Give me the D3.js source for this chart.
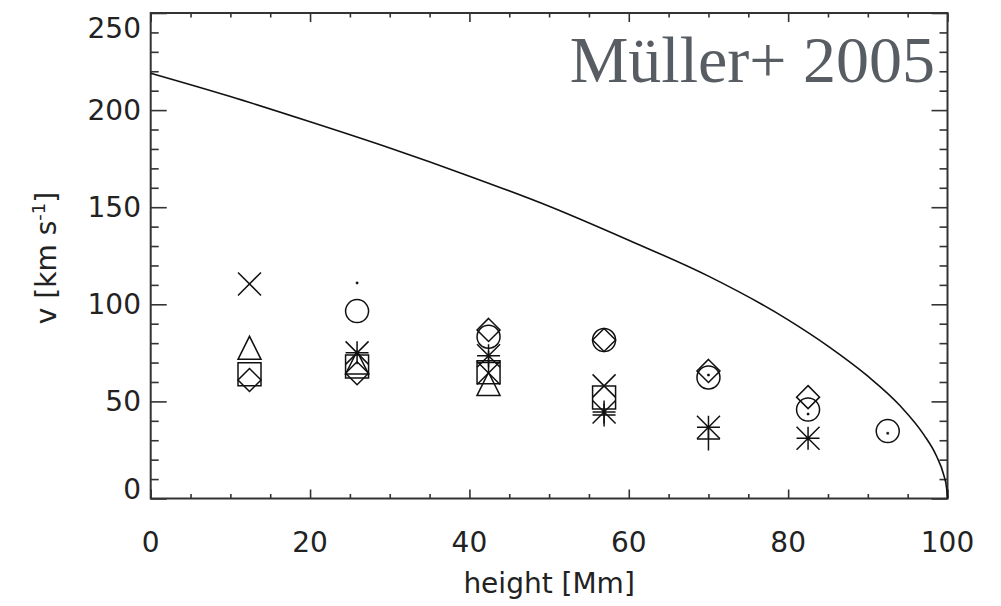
<!DOCTYPE html>
<html>
<head>
<meta charset="utf-8">
<script src="https://cdn.jsdelivr.net/npm/d3@7"></script>
<style>
  body { margin: 0; background: #fff; }
  svg { display: block; }
  .lbl { font-family: "DejaVu Sans", sans-serif; fill: #222; }
</style>
</head>
<body>
<div id="chart"></div>
<script>
// heights of the observation points [Mm]
const heights = [12.4, 25.9, 42.4, 56.9, 70.0, 82.5, 92.5];

// velocities per symbol type [km/s], null = no point
const circleV   = [null, 96.5, 83.3, 81.6, 62.3, 45.8, 34.7];
const diamondV  = [61, 64.5, 86.8, 81.6, 65.7, 52.2, null];
const triangleV = [77.6, 70, 59, null, null, null, null];
const squareV   = [64, 68, 65, 52, null, null, null];
const crossV    = [110.5, null, 64.6, 58, null, null, null];
const asteriskV = [null, 75, 73.5, 44.5, 36.7, 31, null];
const plusV     = [null, null, 70, 43, 30.6, null, null];
const dotV      = [null, 111, null, null, 63.6, 43.5, 33.6];

// model curve
const curveH = [0, 10, 20, 30, 40, 50, 60, 70, 80, 85, 90, 94, 97, 98.6, 99.5, 99.9, 100];
const curveV = [219, 207, 194, 180.5, 166, 150.5, 133, 114.5, 92, 78.5, 63, 48, 33, 22, 12.5, 5, 0];

const xMajor = [0, 20, 40, 60, 80, 100];
const yMajor = [0, 50, 100, 150, 200, 250];

const W = 1001, H = 606;
const svg = d3.select("#chart").append("svg")
    .attr("width", W)
    .attr("height", H);

const x = d3.scaleLinear().domain([0, 100]).range([150.7, 947.5]);
const y = d3.scaleLinear().domain([0, 250]).range([498.5, 13]);

const xMinor = d3.range(0, 101, 5).filter(d => !xMajor.includes(d));
const yMinor = d3.range(0, 251, 10).filter(d => !yMajor.includes(d));

const axisColor = "#333";
function drawAxis(axisFn, scale, tf, vals, size){
    const g = svg.append("g")
        .attr("transform", tf)
        .call(axisFn(scale).tickValues(vals).tickSize(size).tickFormat(""));
    g.select(".domain").remove();
    g.selectAll("line").attr("stroke", axisColor).attr("stroke-width", 1.6);
}
// ticks on all four sides, pointing inwards
drawAxis(d3.axisBottom, x, `translate(0,${y(0)})`, xMajor, -9);
drawAxis(d3.axisBottom, x, `translate(0,${y(0)})`, xMinor, -4.5);
drawAxis(d3.axisTop, x, `translate(0,${y(250)})`, xMajor, -9);
drawAxis(d3.axisTop, x, `translate(0,${y(250)})`, xMinor, -4.5);
drawAxis(d3.axisLeft, y, `translate(${x(0)},0)`, yMajor, -16);
drawAxis(d3.axisLeft, y, `translate(${x(0)},0)`, yMinor, -8);
drawAxis(d3.axisRight, y, `translate(${x(100)},0)`, yMajor, -16);
drawAxis(d3.axisRight, y, `translate(${x(100)},0)`, yMinor, -8);

svg.append("rect")
    .attr("x", x(0)).attr("y", y(250))
    .attr("width", x(100) - x(0)).attr("height", y(0) - y(250))
    .attr("fill", "none")
    .attr("stroke", axisColor)
    .attr("stroke-width", 2);

// tick labels
svg.append("g").selectAll("text").data(xMajor).join("text")
    .attr("class", "lbl")
    .attr("x", d => x(d))
    .attr("y", 552)
    .attr("text-anchor", "middle")
    .attr("font-size", 28)
    .text(d => d);

svg.append("g").selectAll("text").data(yMajor).join("text")
    .attr("class", "lbl")
    .attr("x", 141)
    .attr("y", d => Math.min(Math.max(y(d), y(250) + 15), y(0) - 10) + 10)
    .attr("text-anchor", "end")
    .attr("font-size", 28)
    .text(d => d);

// axis titles
svg.append("text")
    .attr("class", "lbl")
    .attr("x", x(50))
    .attr("y", 593)
    .attr("text-anchor", "middle")
    .attr("font-size", 28)
    .text("height [Mm]");

const yt = svg.append("text")
    .attr("class", "lbl")
    .attr("transform", "translate(56,258) rotate(-90)")
    .attr("text-anchor", "middle")
    .attr("font-size", 28);
yt.append("tspan").text("v [km s");
yt.append("tspan").attr("font-size", 18).attr("dy", -11).text("-1");
yt.append("tspan").attr("dy", 11).text("]");

// model curve
const line = d3.line()
    .x(d => x(d[0]))
    .y(d => y(d[1]))
    .curve(d3.curveMonotoneX);
svg.append("path")
    .datum(d3.zip(curveH, curveV))
    .attr("d", line)
    .attr("fill", "none")
    .attr("stroke", "#111")
    .attr("stroke-width", 1.6);

// symbol shapes (IDL psym style), r = half size
const r = 11.5;
const shapes = {
    circle:   () => `M${r},0A${r},${r},0,1,1,${-r},0A${r},${r},0,1,1,${r},0Z`,
    diamond:  () => `M0,${-r}L${r},0L0,${r}L${-r},0Z`,
    triangle: () => `M${-r},${r}L0,${-r}L${r},${r}Z`,
    square:   () => `M${-r},${-r}H${r}V${r}H${-r}Z`,
    cross:    () => `M${-r},${-r}L${r},${r}M${r},${-r}L${-r},${r}`,
    plus:     () => `M${-r},0H${r}M0,${-r}V${r}`,
    asterisk: () => `M${-r},0H${r}M0,${-r}V${r}M${-r},${-r}L${r},${r}M${r},${-r}L${-r},${r}`,
    dot:      () => `M-1,-1H1V1H-1Z`
};
const series = [
    ["circle", circleV], ["diamond", diamondV], ["triangle", triangleV],
    ["square", squareV], ["cross", crossV], ["plus", plusV],
    ["asterisk", asteriskV], ["dot", dotV]
];

series.forEach(([kind, vals]) => {
    const pts = heights.map((h, i) => [h, vals[i]]).filter(d => d[1] != null);
    svg.append("g").selectAll("path").data(pts).join("path")
        .attr("transform", d => `translate(${x(d[0])},${y(d[1])})`)
        .attr("d", shapes[kind]())
        .attr("fill", kind === "dot" ? "#111" : "none")
        .attr("stroke", "#111")
        .attr("stroke-width", kind === "dot" ? 0.5 : 1.5);
});

// label
svg.append("text")
    .attr("x", 935)
    .attr("y", 82)
    .attr("text-anchor", "end")
    .attr("font-family", "'Liberation Serif', 'Times New Roman', serif")
    .attr("font-size", 66)
    .attr("fill", "#575d63")
    .text("Müller+ 2005");
</script>
</body>
</html>
